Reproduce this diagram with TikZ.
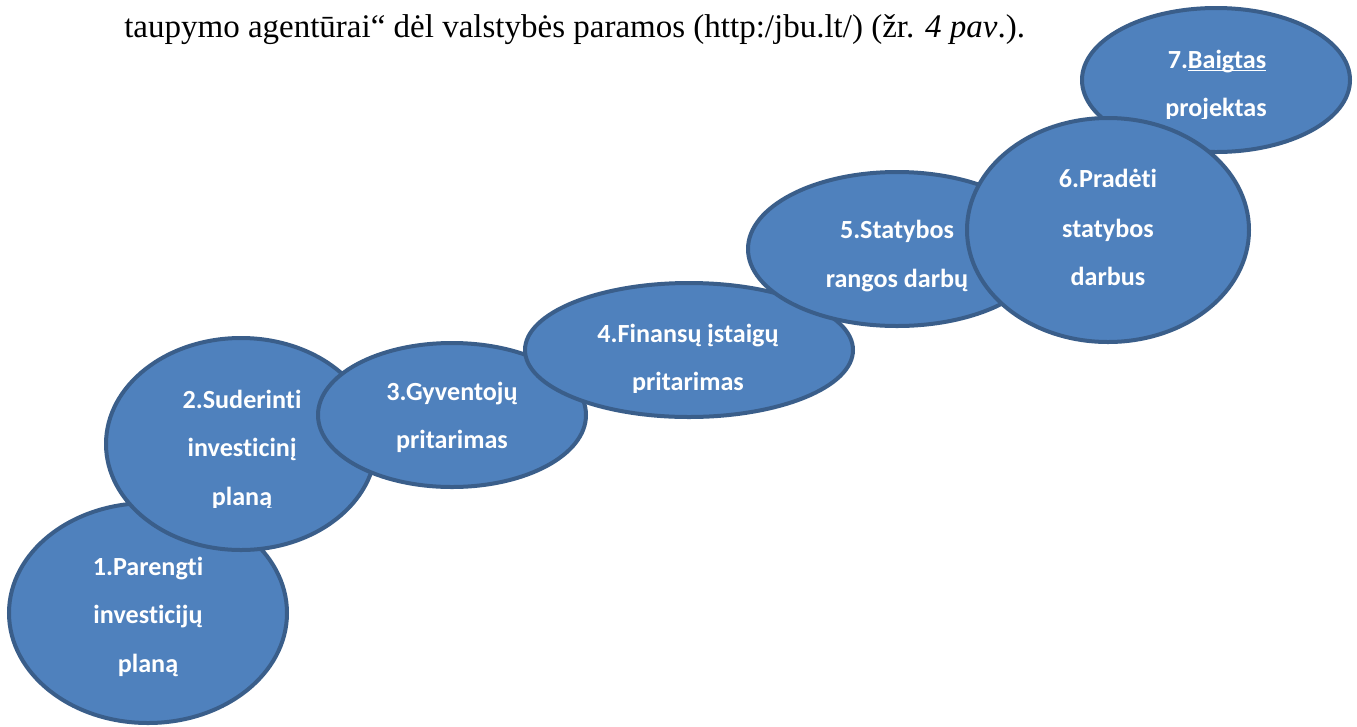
\documentclass[tikz,border=0pt]{standalone}
\usepackage{fontspec}
\setmainfont{Liberation Serif}
\newfontfamily\calibfont[Ligatures=NoCommon]{Carlito}
\usetikzlibrary{shapes.geometric}
\definecolor{ellfill}{HTML}{4F81BD}
\definecolor{elldraw}{HTML}{3A5E8A}
\newcommand\myul[1]{\setbox0\hbox{#1}\rlap{\rule[-2.6pt]{\wd0}{1.3pt}}\box0}
\tikzset{
  ell/.style={ellipse, fill=ellfill, draw=elldraw, line width=3pt, inner sep=0pt},
  lbl/.style={anchor=base, text=white, inner sep=0pt, font=\calibfont\bfseries\fontsize{19.6pt}{23pt}\selectfont},
  head/.style={anchor=base west, inner sep=0pt, font=\fontsize{24.75pt}{29pt}\selectfont}
}
\begin{document}
\begin{tikzpicture}[x=0.75pt,y=-0.75pt]
\fill[white] (0,0) rectangle (1357,726);
\useasboundingbox (0,0) rectangle (1357,726);

\node[head] (hdr) at (124,37) {taupymo agentūrai“ dėl valstybės paramos (http:/jbu.lt/) (žr. \textit{4 pav}.).};

% 1
\node[ell, minimum width=208.5pt, minimum height=165pt] (e1) at (148,613) {};
\node[lbl] (t1a) at (148,575) {1.Parengti};
\node[lbl] (t1b) at (148,623) {investicijų};
\node[lbl] (t1c) at (148,672) {planą};

% 2
\node[ell, minimum width=202.5pt, minimum height=159pt] (e2) at (241,444) {};
\node[lbl] (t2a) at (242,408) {2.Suderinti};
\node[lbl] (t2b) at (242,456) {investicinį};
\begin{scope}
\clip (120,470) rectangle (360,507);
\node[lbl] (t2c) at (242,505) {planą};
\end{scope}

% 3
\node[ell, minimum width=201pt, minimum height=108pt] (e3) at (452,415) {};
\node[lbl] (t3a) at (452,400) {3.Gyventojų};
\node[lbl] (t3b) at (452,448) {pritarimas};

% 4
\node[ell, minimum width=246pt, minimum height=100.5pt] (e4) at (689,350) {};
\node[lbl] (t4a) at (688,342) {4.Finansų įstaigų};
\begin{scope}
\clip (560,355) rectangle (820,392);
\node[lbl] (t4b) at (688,390) {pritarimas};
\end{scope}

% 5
\node[ell, minimum width=223.5pt, minimum height=115.5pt] (e5) at (897,249) {};
\node[lbl] (t5a) at (897,238) {5.Statybos};
\node[lbl] (t5b) at (897,287) {rangos darbų};

% 7
\node[ell, minimum width=201pt, minimum height=108pt] (e7) at (1216,80) {};
\node[lbl] (t7a) at (1217,68) {7.\myul{Baigtas}};
\begin{scope}
\clip (1100,80) rectangle (1330,118);
\node[lbl] (t7b) at (1216,116) {projektas};
\end{scope}

% 6
\node[ell, minimum width=211.5pt, minimum height=168pt] (e6) at (1108,230) {};
\node[lbl] (t6a) at (1108,187) {6.Pradėti};
\node[lbl] (t6b) at (1108,237) {statybos};
\node[lbl] (t6c) at (1108,285) {darbus};
\end{tikzpicture}
\end{document}
